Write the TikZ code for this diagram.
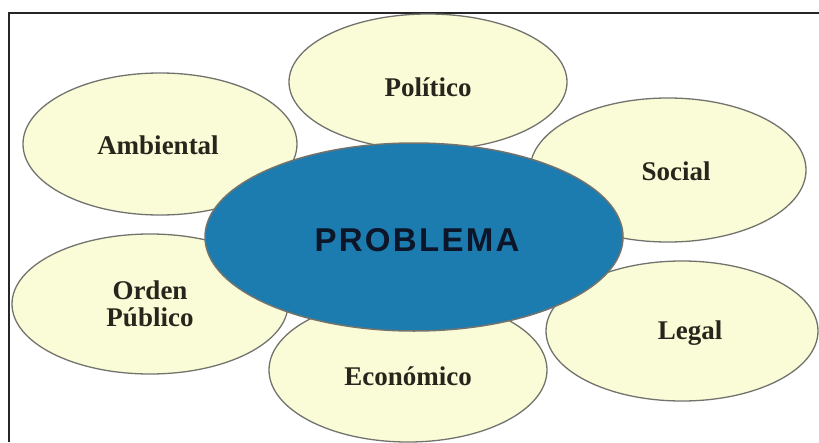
\documentclass[tikz,border=0pt]{standalone}
\usepackage{fontspec}
\setmainfont{Liberation Serif}
\newfontfamily\probfont[LetterSpace=7]{Liberation Sans}
\definecolor{petalfill}{RGB}{250,251,215}
\definecolor{petalline}{RGB}{115,115,110}
\definecolor{probfill}{RGB}{28,124,176}
\definecolor{probtext}{RGB}{12,22,40}
\definecolor{petaltxt}{RGB}{40,38,28}
\begin{document}
\begin{tikzpicture}[x=1pt,y=-1pt,
  petal/.style={petalline, line width=1.3pt, fill=petalfill},
  petaltext/.style={font=\bfseries\fontsize{27}{29}\selectfont, text=petaltxt, align=center}]
\useasboundingbox (0,0) rectangle (819,442);
\fill[white] (0,0) rectangle (819,442);
\draw[line width=1.6pt, black!85] (9,442) -- (9,13) -- (819,13);
% petals
\draw[petal] (428,82) ellipse [x radius=139, y radius=68];
\node[petaltext] (pol) at (428,87) {Político};
\draw[petal] (160,144) ellipse [x radius=137, y radius=71];
\node[petaltext] (amb) at (158,145) {Ambiental};
\draw[petal] (668,170) ellipse [x radius=138, y radius=72];
\node[petaltext] (soc) at (676,171) {Social};
\draw[petal] (150,304) ellipse [x radius=138, y radius=70];
\node[petaltext] (ord) at (150,304) {Orden\\[-2pt]Público};
\draw[petal] (408,370) ellipse [x radius=139, y radius=72];
\node[petaltext] (eco) at (408,376) {Económico};
\draw[petal] (682,331) ellipse [x radius=136, y radius=70];
\node[petaltext] (leg) at (690,333) {Legal};
% center
\draw[petalline, line width=1.5pt, fill=probfill] (414,237) ellipse [x radius=209, y radius=94];
\node[font=\probfont\bfseries\fontsize{33}{35}\selectfont, text=probtext] (prob) at (417,240) {PROBLEMA};
\end{tikzpicture}
\end{document}
